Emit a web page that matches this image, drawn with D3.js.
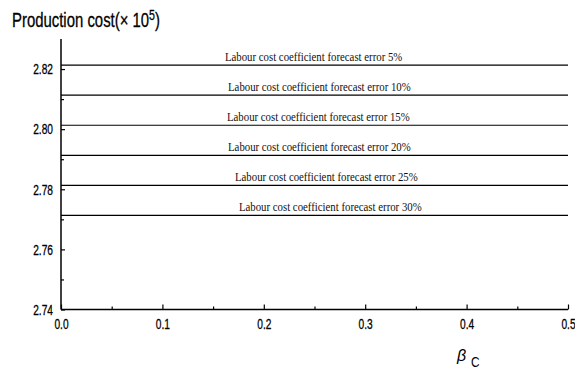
<!DOCTYPE html>
<html><head><meta charset="utf-8">
<script src="https://cdn.jsdelivr.net/npm/d3@7"></script>
<style>
body{margin:0;background:#fff;}
svg{display:block;}
</style></head>
<body><svg id="c" width="575" height="373"></svg>
<script>
const errorLabels = ["5%","10%","15%","20%","25%","30%"];
const costValues = [2.8213, 2.8113, 2.8013, 2.7913, 2.7813, 2.7713];
const labelX = [0.1617, 0.1647, 0.1637, 0.1647, 0.1716, 0.1755];
const xTicks = [0.0, 0.1, 0.2, 0.3, 0.4, 0.5];
const xMinor = [0.05, 0.15, 0.25, 0.35, 0.45];
const yTicks = [2.74, 2.76, 2.78, 2.80, 2.82];
const yMinor = [2.75, 2.77, 2.79, 2.81];
const xDomain = [0, 0.5];
const yDomain = [2.74, 2.83];

const SANS = "'Liberation Sans',Arial,sans-serif";
const svg = d3.select("#c");
const x = d3.scaleLinear().domain(xDomain).range([61, 568]);
const y = d3.scaleLinear().domain(yDomain).range([309.5, 39]);

// data lines
svg.append("g").selectAll("line").data(costValues).join("line")
  .attr("x1", x(0)).attr("x2", x(0.5))
  .attr("y1", d => y(d)).attr("y2", d => y(d))
  .attr("stroke", "#000").attr("stroke-width", 1.2);

// annotations
svg.append("g").selectAll("text").data(costValues).join("text")
  .attr("transform", (d,i) => `translate(${x(labelX[i])},${y(d) - 4}) scale(0.83,1)`)
  .attr("font-family", "'Liberation Serif','Times New Roman',serif")
  .attr("font-size", 13)
  .attr("fill", "#111")
  .text((d,i) => "Labour cost coefficient forecast error " + errorLabels[i]);

// axes
const gx = svg.append("g").attr("transform", `translate(0,${y(yDomain[0])})`)
  .call(d3.axisBottom(x).tickValues(xTicks).tickFormat(d3.format(".1f")).tickSize(-5).tickPadding(9));
const gxm = svg.append("g").attr("transform", `translate(0,${y(yDomain[0])})`)
  .call(d3.axisBottom(x).tickValues(xMinor).tickFormat("").tickSize(-3));
const gy = svg.append("g").attr("transform", `translate(${x(0)},0)`)
  .call(d3.axisLeft(y).tickValues(yTicks).tickFormat(d3.format(".2f")).tickSize(-4).tickPadding(8));
const gym = svg.append("g").attr("transform", `translate(${x(0)},0)`)
  .call(d3.axisLeft(y).tickValues(yMinor).tickFormat("").tickSize(-3));
[gx,gxm,gy,gym].forEach(g => {
  g.select(".domain").attr("stroke","#000").attr("stroke-width",1.5);
  g.selectAll(".tick line").attr("stroke","#000").attr("stroke-width",1.2);
  g.selectAll("text").attr("font-family",SANS).attr("font-size",15).attr("fill","#000")
    .attr("stroke","#000").attr("stroke-width",0.3);
});
gx.selectAll(".tick text").attr("transform","scale(0.68,1)");
gy.selectAll(".tick text").attr("transform","scale(0.68,1)").attr("x",-8/0.68);
gym.select(".domain").remove(); gxm.select(".domain").remove();
gy.select(".domain").attr("d", `M0,${y(yDomain[0])}V${y(yDomain[1])}`);
gx.select(".domain").attr("d", `M${x(0)},0H${x(0.5)}`);

// title
const t = svg.append("text").attr("transform","translate(12,26.7) scale(0.71,1)")
  .attr("font-family",SANS).attr("font-size", 21).attr("fill","#000")
  .attr("stroke","#000").attr("stroke-width",0.3);
t.append("tspan").text("Production cost(\u00D7 10");
t.append("tspan").attr("dy", -7).attr("font-size", 15).text("5");
t.append("tspan").attr("dy", 7).text(")");

// x label
svg.append("text").attr("transform","translate(457,361)").attr("fill","#000")
  .attr("font-family",SANS).attr("font-style","italic").attr("font-size",16).text("\u03B2");
svg.append("text").attr("transform","translate(471,367) scale(0.85,1)").attr("fill","#000")
  .attr("font-family",SANS).attr("font-size",14).text("C");
</script></body></html>
